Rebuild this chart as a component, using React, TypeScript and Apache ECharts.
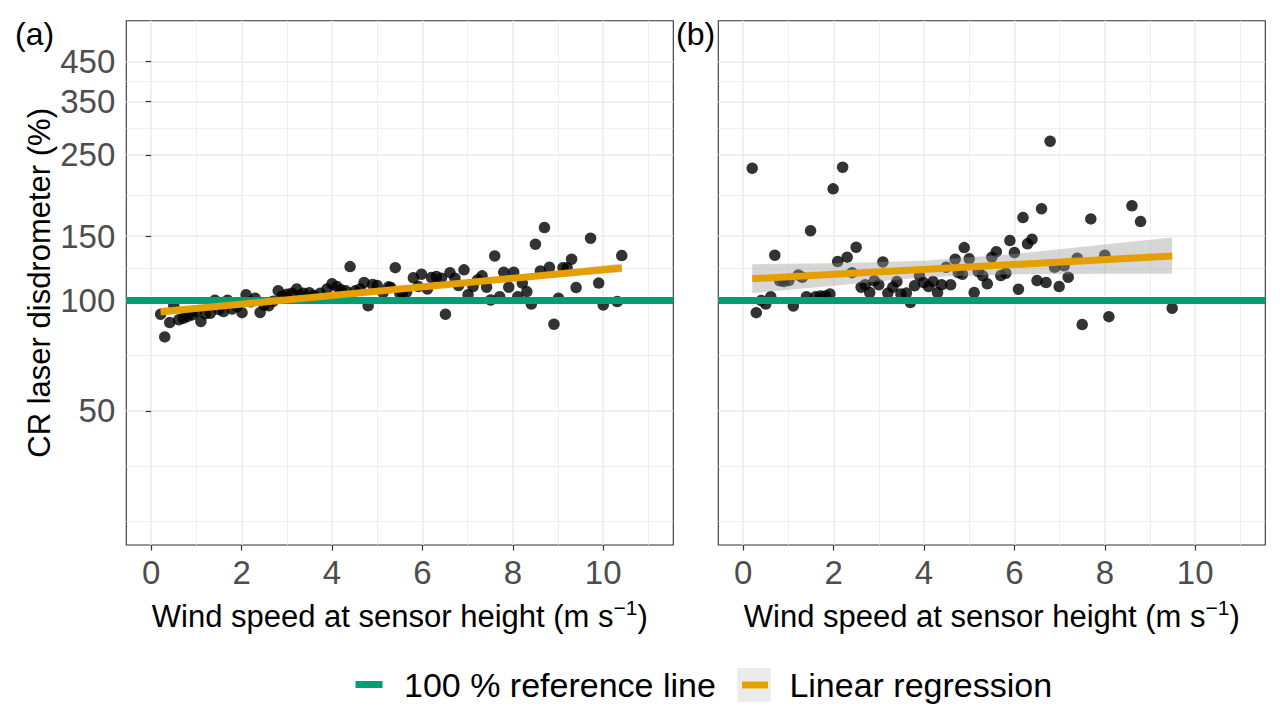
import React, { useEffect, useRef } from "react";
import * as echarts from "echarts";

// ---------- axes ----------
const xTicks = [0, 2, 4, 6, 8, 10];
const xMinor = [1, 3, 5, 7, 9, 11];
const yTicks = [50, 100, 150, 250, 350, 450];
const yMinor = [25, 35.36, 70.71, 122.47, 193.65, 295.8, 396.86];
const xLimits = [-0.55, 11.55];
const yLimits = [21.52, 580.7];
const refValue = 100;

// ---------- panel (a) ----------
const windA = [
  0.21, 0.3, 0.41, 0.5, 0.61, 0.71, 0.8, 0.91, 1.0, 1.1, 1.2, 1.31, 1.41, 1.5, 1.6, 1.69, 1.79, 1.9, 2.01, 2.1,
  2.2, 2.3, 2.41, 2.5, 2.6, 2.7, 2.81, 2.9, 3.0, 3.11, 3.22, 3.3, 3.37, 3.5, 3.6, 3.74, 3.89, 4.0, 4.11, 4.2,
  4.31, 4.4, 4.51, 4.62, 4.71, 4.8, 4.9, 5.0, 5.13, 5.25, 5.3, 5.4, 5.5, 5.56, 5.65, 5.8, 5.91, 5.98, 6.11, 6.2,
  6.31, 6.42, 6.51, 6.61, 6.72, 6.8, 6.92, 7.01, 7.12, 7.22, 7.32, 7.42, 7.51, 7.6, 7.71, 7.8, 7.91, 8.02, 8.11, 8.21,
  8.31, 8.41, 8.5, 8.61, 8.7, 8.81, 8.91, 9.01, 9.11, 9.2, 9.3, 9.4, 9.72, 9.9, 10.0, 10.31, 10.41,
];
const ratioA = [
  91.8, 79.6, 87.1, 96.9, 88.6, 89.5, 90.4, 91.4, 93.3, 87.7, 92.0, 92.4, 100.2, 94.5, 93.3, 100.2, 94.9, 96.3, 92.7, 103.7,
  99.2, 101.5, 92.8, 97.2, 96.8, 99.6, 106.4, 103.0, 104.1, 104.7, 107.5, 103.6, 104.7, 105.0, 103.2, 104.7, 107.6, 111.1, 109.2, 107.0,
  106.3, 123.8, 106.3, 107.6, 112.1, 96.8, 110.6, 109.9, 105.2, 109.0, 108.5, 123.0, 104.7, 105.2, 105.4, 115.4, 109.2, 118.0, 107.6, 115.6,
  116.3, 115.1, 91.8, 119.2, 115.1, 109.9, 121.3, 103.7, 109.2, 113.9, 116.8, 108.8, 100.4, 132.4, 102.5, 119.5, 108.8, 119.5, 102.5, 111.6,
  105.8, 97.8, 142.5, 120.5, 158.2, 123.3, 86.2, 101.5, 123.0, 123.0, 129.7, 108.5, 148.0, 111.6, 97.3, 99.4, 132.7,
];
const fitLineAx = [0.21, 10.41];
const fitLineAy = [93.2, 122.8];
const bandAx = [0.21, 2, 4, 6, 8, 10.41];
const bandAlo = [90.9, 96.2, 102.1, 107.8, 113.3, 119.5];
const bandAhi = [95.6, 99.4, 104.5, 110.3, 117.0, 126.2];

// ---------- panel (b) ----------
const windB = [
  0.2, 0.29, 0.4, 0.5, 0.61, 0.7, 0.81, 0.9, 1.01, 1.11, 1.22, 1.31, 1.4, 1.49, 1.6, 1.71, 1.82, 1.92, 1.99, 2.09,
  2.2, 2.3, 2.41, 2.5, 2.61, 2.7, 2.8, 2.9, 3.0, 3.09, 3.2, 3.31, 3.4, 3.49, 3.61, 3.7, 3.79, 3.9, 3.99, 4.1,
  4.2, 4.3, 4.39, 4.49, 4.59, 4.69, 4.76, 4.85, 4.89, 5.0, 5.11, 5.2, 5.3, 5.4, 5.5, 5.6, 5.7, 5.81, 5.9, 6.0,
  6.09, 6.19, 6.29, 6.39, 6.5, 6.6, 6.7, 6.79, 6.89, 6.99, 7.1, 7.19, 7.39, 7.5, 7.69, 8.0, 8.09, 8.6, 8.79, 9.49,
];
const ratioB = [
  229.8, 92.7, 100.0, 97.8, 102.5, 133.0, 113.2, 112.7, 113.4, 96.7, 117.5, 115.8, 102.5, 155.2, 102.5, 103.0, 103.0, 104.3, 201.8, 127.8,
  231.2, 131.4, 119.2, 139.9, 108.8, 110.4, 105.2, 113.2, 110.4, 127.5, 104.8, 108.8, 112.7, 104.3, 104.8, 98.8, 109.7, 116.8, 112.0, 109.2,
  112.7, 105.2, 110.4, 123.3, 110.4, 129.7, 119.2, 118.0, 139.5, 130.0, 105.2, 120.0, 116.8, 111.1, 131.4, 136.0, 117.0, 118.8, 145.8, 135.2,
  107.4, 168.5, 142.9, 147.1, 113.4, 178.2, 112.0, 272.3, 123.3, 109.2, 124.4, 115.8, 130.5, 86.0, 167.1, 133.0, 90.4, 181.4, 164.3, 95.3,
];
const fitLineBx = [0.2, 9.49];
const fitLineBy = [114.7, 132.4];
const bandBx = [0.2, 2, 4, 6, 8, 9.49];
const bandBlo = [104.8, 109.8, 115.8, 118.0, 118.3, 118.3];
const bandBhi = [125.7, 126.5, 128.4, 134.0, 142.2, 148.6];

const FONT = '"Liberation Sans", Arial, Helvetica, sans-serif';
const GREEN = "#009E73";
const ORANGE = "#E69F00";
const BAND = "rgba(153,153,153,0.4)";
const TICK_COLOR = "#333333";
const LABEL_COLOR = "#4D4D4D";
const GRID_COLOR = "#EBEBEB";

const PANEL_TOP = 20.7;
const PANEL_H = 524.3;
const PANEL_W = 547;
const PANEL_A_LEFT = 126.3;
const PANEL_B_LEFT = 718.3;

function xAxesFor(gridIndex: number) {
  return [
    {
      type: "value",
      gridIndex,
      min: xLimits[0],
      max: xLimits[1],
      axisLine: { show: false },
      axisTick: { show: true, length: 5.5, lineStyle: { color: TICK_COLOR, width: 1.2 }, customValues: xTicks },
      axisLabel: { show: true, customValues: xTicks, color: LABEL_COLOR, fontSize: 33, fontFamily: FONT, margin: 11 },
      splitLine: { show: true, lineStyle: { color: GRID_COLOR, width: 1.5 } },
      name: "{t|Wind speed at sensor height (m s}{s|\u22121}{t|)}",
      nameLocation: "middle",
      nameGap: 52,
      nameTextStyle: {
        color: "#000",
        fontFamily: FONT,
        fontSize: 31,
        rich: {
          t: { fontSize: 31, color: "#000", fontFamily: FONT, lineHeight: 38 },
          s: { fontSize: 21, color: "#000", fontFamily: FONT, lineHeight: 21, verticalAlign: "top" },
        },
      },
      z: 1,
    },
    {
      type: "value",
      gridIndex,
      min: xLimits[0],
      max: xLimits[1],
      position: "top",
      axisLine: { show: false },
      axisTick: { show: false, customValues: xMinor },
      axisLabel: { show: false, customValues: xMinor },
      splitLine: { show: true, lineStyle: { color: GRID_COLOR, width: 0.8 } },
      z: 1,
    },
  ];
}

function yAxesFor(gridIndex: number, withLabels: boolean) {
  return [
    {
      type: "log",
      logBase: 10,
      gridIndex,
      min: yLimits[0],
      max: yLimits[1],
      axisLine: { show: false },
      axisTick: {
        show: withLabels,
        length: 5.5,
        lineStyle: { color: TICK_COLOR, width: 1.2 },
        customValues: yTicks,
      },
      axisLabel: {
        show: withLabels,
        customValues: yTicks,
        color: LABEL_COLOR,
        fontSize: 33,
        fontFamily: FONT,
        margin: 11,
        formatter: (v: number) => String(Math.round(v)),
      },
      splitLine: { show: true, lineStyle: { color: GRID_COLOR, width: 1.5 } },
      name: withLabels ? "CR laser disdrometer (%)" : "",
      nameLocation: "middle",
      nameRotate: 90,
      nameGap: 71,
      nameTextStyle: { color: "#000", fontFamily: FONT, fontSize: 31 },
      z: 1,
    },
    {
      type: "log",
      logBase: 10,
      gridIndex,
      min: yLimits[0],
      max: yLimits[1],
      position: "right",
      axisLine: { show: false },
      axisTick: { show: false, customValues: yMinor },
      axisLabel: { show: false, customValues: yMinor },
      splitLine: { show: true, lineStyle: { color: GRID_COLOR, width: 0.8 } },
      z: 1,
    },
  ];
}

function bandSeries(xAxisIndex: number, yAxisIndex: number, bx: number[], lo: number[], hi: number[]) {
  return {
    type: "custom",
    xAxisIndex,
    yAxisIndex,
    z: 4,
    silent: true,
    clip: true,
    data: [[bx[0], lo[0]]],
    renderItem: (_params: any, api: any) => {
      const pts: number[][] = [];
      for (let i = 0; i < bx.length; i++) pts.push(api.coord([bx[i], hi[i]]));
      for (let i = bx.length - 1; i >= 0; i--) pts.push(api.coord([bx[i], lo[i]]));
      return { type: "polygon", shape: { points: pts }, style: { fill: BAND } };
    },
  };
}

function panelSeries(xi: number, yi: number, wind: number[], ratio: number[], lx: number[], ly: number[], bx: number[], lo: number[], hi: number[]) {
  return [
    {
      type: "scatter",
      xAxisIndex: xi,
      yAxisIndex: yi,
      z: 2,
      symbol: "circle",
      symbolSize: 11.5,
      itemStyle: { color: "#000", opacity: 0.8 },
      data: wind.map((x, i) => [x, ratio[i]]),
    },
    {
      type: "line",
      xAxisIndex: xi,
      yAxisIndex: yi,
      z: 3,
      symbol: "none",
      silent: true,
      lineStyle: { color: GREEN, width: 7 },
      data: [
        [xLimits[0], refValue],
        [xLimits[1], refValue],
      ],
    },
    bandSeries(xi, yi, bx, lo, hi),
    {
      type: "line",
      xAxisIndex: xi,
      yAxisIndex: yi,
      z: 5,
      symbol: "none",
      silent: true,
      lineStyle: { color: ORANGE, width: 7 },
      data: lx.map((x, i) => [x, ly[i]]),
    },
  ];
}

export default function App() {
  const ref = useRef<HTMLDivElement>(null);

  useEffect(() => {
    if (!ref.current) return;
    const chart = echarts.init(ref.current, undefined, { renderer: "svg" });
    const option: any = {
      animation: false,
      backgroundColor: "#ffffff",
      textStyle: { fontFamily: FONT },
      grid: [
        {
          left: PANEL_A_LEFT,
          top: PANEL_TOP,
          width: PANEL_W,
          height: PANEL_H,
          show: true,
          borderColor: "#333333",
          borderWidth: 1.1,
          backgroundColor: "#ffffff",
          containLabel: false,
          outerBoundsMode: "none",
        },
        {
          left: PANEL_B_LEFT,
          top: PANEL_TOP,
          width: PANEL_W,
          height: PANEL_H,
          show: true,
          borderColor: "#333333",
          borderWidth: 1.1,
          backgroundColor: "#ffffff",
          containLabel: false,
          outerBoundsMode: "none",
        },
      ],
      xAxis: [...xAxesFor(0), ...xAxesFor(1)],
      yAxis: [...yAxesFor(0, true), ...yAxesFor(1, false)],
      series: [
        ...panelSeries(0, 0, windA, ratioA, fitLineAx, fitLineAy, bandAx, bandAlo, bandAhi),
        ...panelSeries(2, 2, windB, ratioB, fitLineBx, fitLineBy, bandBx, bandBlo, bandBhi),
      ],
      graphic: [
        { type: "text", left: 15, top: 18, style: { text: "(a)", fontSize: 32, fontFamily: FONT, fill: "#000" } },
        { type: "text", left: 676, top: 18, style: { text: "(b)", fontSize: 32, fontFamily: FONT, fill: "#000" } },
        { type: "rect", shape: { x: 355.5, y: 681, width: 27, height: 7 }, style: { fill: GREEN } },
        {
          type: "text",
          x: 404,
          y: 685,
          style: { text: "100 % reference line", fontSize: 34, fontFamily: FONT, fill: "#000", textVerticalAlign: "middle" },
        },
        { type: "rect", shape: { x: 737.4, y: 668, width: 33.4, height: 33.7 }, style: { fill: "#EBEBEB" } },
        { type: "rect", shape: { x: 742, y: 681.5, width: 26, height: 7 }, style: { fill: ORANGE } },
        {
          type: "text",
          x: 789.4,
          y: 685,
          style: { text: "Linear regression", fontSize: 34, fontFamily: FONT, fill: "#000", textVerticalAlign: "middle" },
        },
      ],
    };
    chart.setOption(option);
    return () => chart.dispose();
  }, []);

  return <div ref={ref} style={{ position: "fixed", left: 0, top: 0, width: 1285, height: 724 }} />;
}
